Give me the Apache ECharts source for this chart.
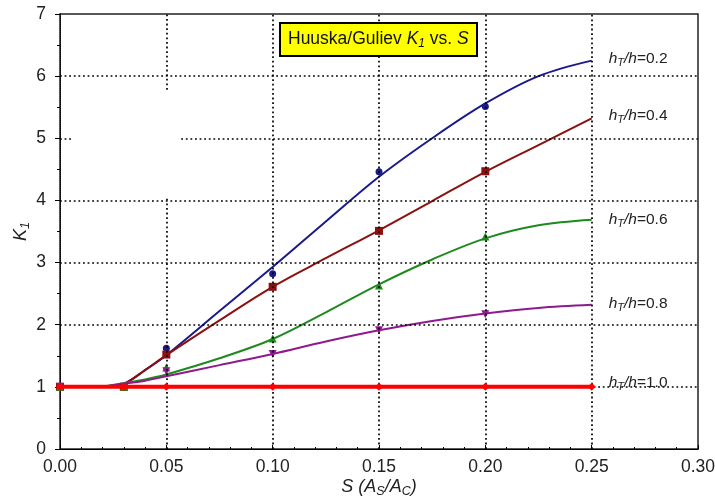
<!DOCTYPE html>
<html><head><meta charset="utf-8">
<script src="https://cdn.jsdelivr.net/npm/echarts@6/dist/echarts.min.js"></script>
<style>html,body{margin:0;padding:0;background:#fff}#c{width:715px;height:498px}</style>
</head><body><div id="c"></div>
<script>
// ---- data ----
const xCurve  = [0.02, 0.03, 0.04, 0.05, 0.075, 0.10, 0.125, 0.15, 0.175, 0.20, 0.225, 0.25];
const curve02 = [1.00, 1.05, 1.27, 1.51, 2.22, 2.93, 3.66, 4.38, 5.00, 5.56, 6.00, 6.25];
const curve04 = [1.00, 1.05, 1.27, 1.51, 2.07, 2.61, 3.07, 3.52, 3.99, 4.46, 4.89, 5.32];
const curve06 = [1.00, 1.06, 1.12, 1.20, 1.46, 1.77, 2.20, 2.65, 3.05, 3.39, 3.60, 3.69];
const curve08 = [1.00, 1.05, 1.10, 1.17, 1.35, 1.53, 1.73, 1.91, 2.06, 2.18, 2.27, 2.32];

const xPts  = [0, 0.03, 0.05, 0.10, 0.15, 0.20];
const pts02 = [1, 1, 1.62, 2.82, 4.46, 5.51];
const pts04 = [1, 1, 1.52, 2.61, 3.51, 4.47];
const pts06 = [1, 1, 1.31, 1.78, 2.63, 3.42];
const pts08 = [1, 1, 1.25, 1.53, 1.91, 2.17];
const xPts10 = [0, 0.03, 0.05, 0.10, 0.15, 0.20, 0.25];
const pts10  = [1, 1, 1, 1, 1, 1, 1];

const seriesNames = ['0.2', '0.4', '0.6', '0.8', '1.0'];
const xTicks = [0.05, 0.10, 0.15, 0.20, 0.25];
const yTicks = [1, 2, 3, 4, 5, 6];

// ---- chart ----
const F = "'Liberation Sans', Arial, sans-serif";
const pairs = (xs, ys) => xs.map((x, i) => [x, ys[i]]);

// dotted grid, with the gaps seen in the original
const gapY = {5: [0.006, 0.057]};
const gapX = {'0.05': [4.05, 5.78]};
const gl = [];
yTicks.forEach(y => {
  if (gapY[y]) {
    gl.push([{coord: [0, y]}, {coord: [gapY[y][0], y]}]);
    gl.push([{coord: [gapY[y][1], y]}, {coord: [0.3, y]}]);
  } else gl.push([{coord: [0, y]}, {coord: [0.3, y]}]);
});
xTicks.forEach(x => {
  const g = gapX[x.toFixed(2)];
  if (g) {
    gl.push([{coord: [x, 0]}, {coord: [x, g[0]]}]);
    gl.push([{coord: [x, g[1]]}, {coord: [x, 7]}]);
  } else gl.push([{coord: [x, 0]}, {coord: [x, 7]}]);
});

const lblRich = {
  i: {fontFamily: F, fontStyle: 'italic', fontSize: 15.5, color: '#222', lineHeight: 20},
  s: {fontFamily: F, fontStyle: 'italic', fontSize: 11, color: '#222', lineHeight: 8, verticalAlign: 'bottom'},
  n: {fontFamily: F, fontSize: 15.5, color: '#222', lineHeight: 20}
};
function endLbl(name, dy) {
  return {show: true, formatter: '{i|h}{s|T}{i|/h}{n|=' + name + '}', distance: 17,
          offset: [0, dy], rich: lblRich};
}
const colors = ['#1a1a8a', '#8b1010', '#1e8a1e', '#8e1a8e', '#ff0000'];
const curves = [curve02, curve04, curve06, curve08];
const pts = [pts02, pts04, pts06, pts08];
const syms = [
  {symbol: 'circle', symbolSize: 7, symbolRotate: 0},
  {symbol: 'rect', symbolSize: 8, symbolRotate: 0},
  {symbol: 'triangle', symbolSize: 8, symbolRotate: 0},
  {symbol: 'triangle', symbolSize: 8, symbolRotate: 180}
];
const dy = [-2, -3, 0, -1];

const series = [{
  type: 'line', data: [[0, 0]], symbol: 'none', lineStyle: {opacity: 0}, silent: true, z: 1,
  markLine: {silent: true, symbol: ['none', 'none'], animation: false, label: {show: false},
    lineStyle: {color: '#000', width: 1.7, type: [1.8, 2.8]}, emphasis: {disabled: true}, data: gl}
}];
for (let k = 0; k < 4; k++) {
  series.push({type: 'line', data: pairs(xCurve, curves[k]), smooth: 0.35, showSymbol: false,
    lineStyle: {color: colors[k], width: 2}, itemStyle: {color: colors[k]}, z: 3,
    endLabel: endLbl(seriesNames[k], dy[k])});
  series.push(Object.assign({type: 'scatter', data: pairs(xPts, pts[k]),
    itemStyle: {color: colors[k], opacity: 1}, z: 4}, syms[k]));
}
series.push({type: 'line', data: pairs(xPts10, pts10), symbol: 'diamond', symbolSize: 8, showSymbol: true,
  lineStyle: {color: colors[4], width: 4}, itemStyle: {color: colors[4]}, z: 5,
  endLabel: endLbl(seriesNames[4], -4)});

const chart = echarts.init(document.getElementById('c'), null, {renderer: 'canvas'});
chart.setOption({
  animation: false,
  backgroundColor: '#fff',
  title: {
    text: '{n|Huuska/Guliev }{i|K}{s|1}{n| vs. }{i|S}',
    left: 280, top: 21, backgroundColor: '#ffff00', borderColor: '#000', borderWidth: 2,
    padding: [7, 8, 6, 8],
    textStyle: {fontWeight: 'normal', rich: {
      n: {fontFamily: F, fontWeight: 'normal', fontSize: 17.5, color: '#111', lineHeight: 22},
      i: {fontFamily: F, fontWeight: 'normal', fontStyle: 'italic', fontSize: 17.5, color: '#111', lineHeight: 22},
      s: {fontFamily: F, fontWeight: 'normal', fontStyle: 'italic', fontSize: 12, color: '#111', lineHeight: 9, verticalAlign: 'bottom'}
    }}
  },
  grid: {left: 60, right: 17, top: 14, bottom: 49, show: true, borderColor: '#222', borderWidth: 1.5,
         outerBoundsMode: 'none', containLabel: false},
  xAxis: {
    type: 'value', min: 0, max: 0.3, interval: 0.05,
    axisLine: {show: true, onZero: false, lineStyle: {color: '#000', width: 1}},
    axisTick: {show: true, inside: true, length: 4, lineStyle: {color: '#000'}},
    minorTick: {show: true, splitNumber: 5, length: 2, lineStyle: {color: '#000'}},
    splitLine: {show: false},
    axisLabel: {formatter: v => v.toFixed(2), fontFamily: F, fontSize: 17.5, color: '#222', margin: 9},
    name: '{i|S (A}{s|S}{i|/A}{s|C}{i|)}', nameLocation: 'middle', nameGap: 27, nameMoveOverlap: false,
    nameTextStyle: {rich: {
      i: {fontFamily: F, fontStyle: 'italic', fontSize: 18, color: '#222', lineHeight: 22},
      s: {fontFamily: F, fontStyle: 'italic', fontSize: 12.5, color: '#222', lineHeight: 10, verticalAlign: 'bottom'}
    }}
  },
  yAxis: {
    type: 'value', min: 0, max: 7, interval: 1,
    axisLine: {show: true, lineStyle: {color: '#000', width: 1, type: [1, 1]}},
    axisTick: {show: true, inside: false, length: 5, lineStyle: {color: '#000'}},
    minorTick: {show: true, splitNumber: 2, length: 3, lineStyle: {color: '#000'}},
    splitLine: {show: false},
    axisLabel: {fontFamily: F, fontSize: 17.5, color: '#222', margin: 14},
    name: '{i|K}{s|1}', nameLocation: 'middle', nameGap: 28, nameRotate: 90, nameMoveOverlap: false,
    nameTextStyle: {rich: {
      i: {fontFamily: F, fontStyle: 'italic', fontSize: 18, color: '#222', lineHeight: 22},
      s: {fontFamily: F, fontStyle: 'italic', fontSize: 12.5, color: '#222', lineHeight: 10, verticalAlign: 'bottom'}
    }}
  },
  series: series
});
</script></body></html>
